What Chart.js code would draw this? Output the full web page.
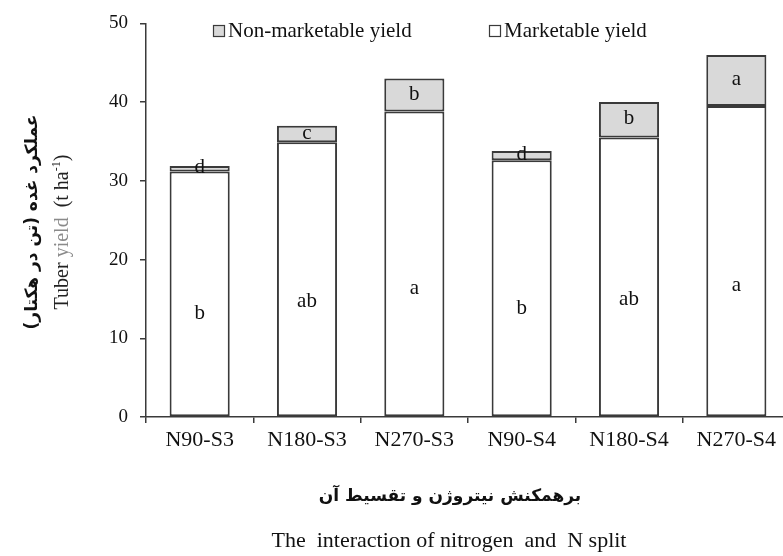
<!DOCTYPE html>
<html>
<head>
<meta charset="utf-8">
<script src="https://cdn.jsdelivr.net/npm/chart.js@4/dist/chart.umd.min.js"></script>
<style>
  html, body { margin: 0; padding: 0; background: #fff; overflow: hidden; }
  #wrap { width: 790px; height: 556px; position: relative; }
</style>
</head>
<body>
<div id="wrap"><canvas id="mycanvas"></canvas></div>
<script>
// values (t/ha)
var treatments = ['N90-S3', 'N180-S3', 'N270-S3', 'N90-S4', 'N180-S4', 'N270-S4'];
var marketable = [31.2, 34.9, 38.8, 32.6, 35.5, 39.5];
var nonMarketable = [0.7, 2.1, 4.2, 1.2, 4.5, 6.5];
var marketLetters = ['b', 'ab', 'a', 'b', 'ab', 'a'];
var nonMarketLetters = ['d', 'c', 'b', 'd', 'b', 'a'];
var yTicks = [0, 10, 20, 30, 40, 50];

var serif = '"Liberation Serif", "Times New Roman", serif';
var ink = '#3a3a3a';

// draw a run of [text, colour, superscript] pieces starting at x
function drawRun(c, pieces, x, y, size) {
	pieces.forEach(function(p) {
		var sz = p[2] ? Math.round(size * 0.62) : size;
		c.font = sz + 'px ' + serif;
		c.fillStyle = p[1];
		c.fillText(p[0], x, p[2] ? y - size * 0.38 : y);
		x += c.measureText(p[0]).width;
	});
}
function runWidth(c, pieces, size) {
	var w = 0;
	pieces.forEach(function(p) {
		var sz = p[2] ? Math.round(size * 0.62) : size;
		c.font = sz + 'px ' + serif;
		w += c.measureText(p[0]).width;
	});
	return w;
}

var textPlugin = {
	id: 'extraText',
	afterDatasetsDraw: function(chart) {
		var ctx = chart.ctx;
		ctx.save();
		ctx.fillStyle = '#111';
		ctx.font = '21px ' + serif;
		ctx.textAlign = 'center';
		ctx.textBaseline = 'middle';
		var m = chart.getDatasetMeta(0).data;
		var n = chart.getDatasetMeta(1).data;
		for (var i = 0; i < m.length; i++) {
			var lowY = m[i].base - 0.42 * (m[i].base - m[i].y);
			ctx.fillText(marketLetters[i], m[i].x, lowY);
			ctx.fillText(nonMarketLetters[i], n[i].x, (n[i].y + n[i].base) / 2 - 1);
		}

		// legend
		var items = [
			{ x: 213, text: 'Non-marketable yield', fill: '#d9d9d9' },
			{ x: 489, text: 'Marketable yield', fill: '#ffffff' }
		];
		ctx.textAlign = 'left';
		ctx.textBaseline = 'alphabetic';
		ctx.font = '21px ' + serif;
		items.forEach(function(it) {
			ctx.fillStyle = it.fill;
			ctx.fillRect(it.x, 25, 11, 11);
			ctx.strokeStyle = ink;
			ctx.lineWidth = 1.2;
			ctx.strokeRect(it.x + 0.5, 25.5, 11, 11);
			ctx.fillStyle = '#111';
			ctx.fillText(it.text, it.x + 15, 37);
		});

		// y axis titles
		ctx.save();
		ctx.translate(33, 222);
		ctx.rotate(-Math.PI / 2);
		ctx.textAlign = 'center';
		ctx.textBaseline = 'middle';
		ctx.fillStyle = '#111';
		ctx.font = 'bold 17px "DejaVu Sans", sans-serif';
		ctx.direction = 'rtl';
		ctx.fillText('عملکرد غده (تن در هکتار)', 0, 0);
		ctx.restore();

		ctx.save();
		ctx.translate(68, 232);
		ctx.rotate(-Math.PI / 2);
		ctx.textAlign = 'left';
		ctx.textBaseline = 'alphabetic';
		var yPieces = [['Tuber ', '#222'], ['yield', '#8a8a8a'], ['  (t ha', '#222'], ['-1', '#222', true], [')', '#222']];
		drawRun(ctx, yPieces, -runWidth(ctx, yPieces, 20) / 2, 0, 20);
		ctx.restore();

		// x axis titles
		ctx.textAlign = 'center';
		ctx.textBaseline = 'middle';
		ctx.fillStyle = '#111';
		ctx.font = 'bold 17px "DejaVu Sans", sans-serif';
		ctx.direction = 'rtl';
		ctx.fillText('برهمکنش نیتروژن و تقسیط آن', 450, 497);
		ctx.direction = 'ltr';
		ctx.font = '22px ' + serif;
		ctx.fillText('The  interaction of nitrogen  and  N split', 449, 541);
		ctx.restore();
	}
};

var ctx = document.getElementById('mycanvas');

var barGraph = new Chart(ctx, {
	type: 'bar',
	data: {
		labels: treatments,
		datasets: [
			{
				label: 'Marketable yield',
				data: marketable,
				backgroundColor: '#ffffff',
				borderColor: ink,
				borderWidth: 2,
				borderSkipped: false
			},
			{
				label: 'Non-marketable yield',
				data: nonMarketable,
				backgroundColor: '#d9d9d9',
				borderColor: ink,
				borderWidth: 2,
				borderSkipped: false
			}
		]
	},
	options: {
		responsive: true,
		maintainAspectRatio: false,
		animation: false,
		layout: { padding: { top: 21, left: 0, right: 0, bottom: 0 } },
		datasets: { bar: { categoryPercentage: 1, barPercentage: 0.56 } },
		plugins: {
			legend: { display: false },
			tooltip: { enabled: false }
		},
		scales: {
			x: {
				stacked: true,
				afterFit: function(scale) { scale.height = 139; },
				grid: { offset: true, drawOnChartArea: false, tickLength: 6, color: ink, lineWidth: 1.5 },
				border: { color: ink, width: 1.5 },
				ticks: { color: '#111', font: { family: serif, size: 22 }, padding: 4, maxRotation: 0 }
			},
			y: {
				stacked: true,
				min: yTicks[0],
				max: yTicks[yTicks.length - 1],
				afterFit: function(scale) { scale.width = 146; },
				afterBuildTicks: function(scale) {
					scale.ticks = yTicks.map(function(v) { return { value: v }; });
				},
				grid: { drawOnChartArea: false, tickLength: 6, color: ink, lineWidth: 1.5 },
				border: { color: ink, width: 1.5 },
				ticks: { color: '#111', font: { family: serif, size: 19 }, padding: 12 }
			}
		}
	},
	plugins: [textPlugin]
});
</script>
</body>
</html>
